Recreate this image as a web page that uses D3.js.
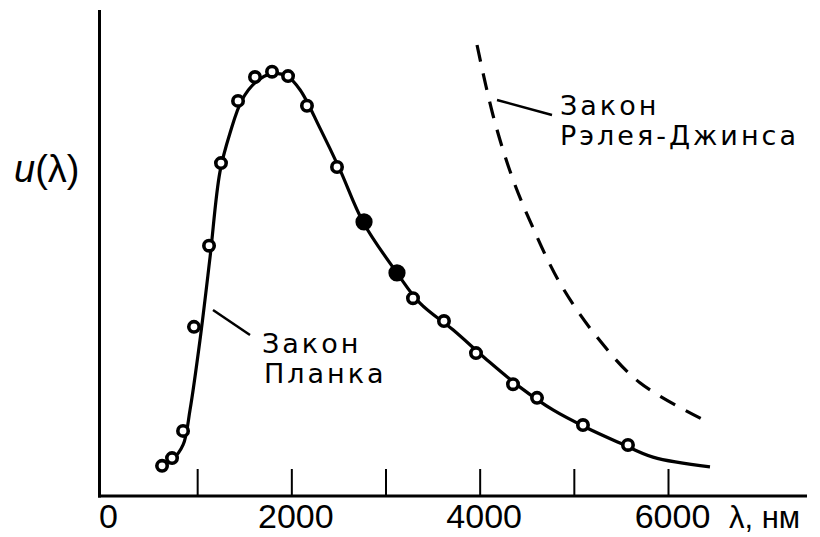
<!DOCTYPE html>
<html>
<head>
<meta charset="utf-8">
<script src="https://cdn.jsdelivr.net/npm/d3@7"></script>
<style>
  body { margin: 0; background: #fff; }
  svg { display: block; }
</style>
</head>
<body>
<div id="chart"></div>
<script>
// GLOBALS AND CONSTANTS
const width = 820;
const height = 537;

// DATA, lambda in nm, u in arbitrary units
const planckLambda = [584, 733, 850, 924, 1030, 1136, 1242, 1349, 1476, 1625, 1795, 1954, 2092, 2304, 2517, 2761, 3122, 3366, 3717, 4078, 4428, 4779, 5140, 5490, 5840, 6446];
const planckU      = [5.8, 7.4, 10.5, 17.7, 32.1, 49.0, 66.7, 74.7, 81.5, 85.2, 86.9, 86.4, 83.6, 75.7, 67.1, 56.4, 45.9, 39.7, 34.2, 28.0, 22.4, 17.7, 14.0, 10.9, 8.0, 6.0];

const obsLambda = [627, 733, 850, 966, 1126, 1253, 1434, 1614, 1795, 1965, 2166, 2485, 2772, 3122, 3292, 3621, 3961, 4354, 4609, 5097, 5575];
const obsU      = [6.2, 7.8, 13.4, 34.8, 51.5, 68.5, 81.3, 86.2, 87.3, 86.4, 80.3, 67.7, 56.4, 45.9, 40.7, 36.0, 29.4, 23.0, 20.2, 14.6, 10.5];
const obsFilled = [false, false, false, false, false, false, false, false, false, false, false, false, true, true, false, false, false, false, false, false, false];

const rjLambda = [3972, 4141, 4343, 4566, 4853, 5246, 5702, 6425];
const rjU      = [92.8, 78.4, 65.7, 55.2, 43.8, 32.7, 23.3, 15.2];

const minorTicks = [1000, 2000, 3000, 4000, 5000, 6000];
const tickLabels = [0, 2000, 4000, 6000];

// SCALES
const x = d3.scaleLinear().domain([0, 6000]).range([103, 668]);
const y = d3.scaleLinear().domain([0, 100]).range([496, 10]);

const svg = d3.select('#chart')
  .append('svg')
  .attr('width', width)
  .attr('height', height);

// AXES LINES
svg.append('line')
  .attr('x1', 99.5).attr('x2', 99.5)
  .attr('y1', y(100)).attr('y2', 497.5)
  .attr('stroke', '#000').attr('stroke-width', 3);

svg.append('line')
  .attr('x1', 98).attr('x2', 807)
  .attr('y1', 496).attr('y2', 496)
  .attr('stroke', '#000').attr('stroke-width', 3);

// TICKS (pointing up)
const tickAxis = svg.append('g')
  .attr('transform', 'translate(0,496)')
  .call(d3.axisBottom(x).tickValues(minorTicks).tickSizeInner(-27).tickSizeOuter(0).tickFormat(''));
tickAxis.select('.domain').remove();
tickAxis.selectAll('line').attr('stroke', '#000').attr('stroke-width', 2);

// TICK LABELS
const labelAxis = svg.append('g')
  .attr('transform', 'translate(0,496)')
  .call(d3.axisBottom(x).tickValues(tickLabels).tickSize(0).tickPadding(8).tickFormat(d3.format('d')));
labelAxis.select('.domain').remove();
labelAxis.selectAll('text')
  .attr('fill', '#000')
  .style('font-family', '"Liberation Sans", Arial, sans-serif')
  .style('font-size', '34px')
  .attr('dx', d => d === 0 ? '5px' : '4px');

svg.append('text')
  .attr('x', 729).attr('y', 528)
  .style('font-family', '"Liberation Sans", Arial, sans-serif')
  .style('font-size', '31px')
  .text('λ, нм');

// Y LABEL
const yl = svg.append('text')
  .attr('x', 14).attr('y', 182)
  .style('font-family', '"Liberation Sans", Arial, sans-serif')
  .style('font-size', '38px');
yl.append('tspan').style('font-style', 'italic').text('u');
yl.append('tspan').text('(λ)');

// PLANCK CURVE
const line = d3.line()
  .x(d => x(d[0]))
  .y(d => y(d[1]))
  .curve(d3.curveCatmullRom.alpha(0.5));

svg.append('path')
  .datum(d3.zip(planckLambda, planckU))
  .attr('d', line)
  .attr('fill', 'none')
  .attr('stroke', '#000')
  .attr('stroke-width', 3.2)
  .attr('stroke-linejoin', 'round');

// RAYLEIGH-JEANS CURVE
svg.append('path')
  .datum(d3.zip(rjLambda, rjU))
  .attr('d', line)
  .attr('fill', 'none')
  .attr('stroke', '#000')
  .attr('stroke-width', 3.2)
  .attr('stroke-dasharray', '17,12');

// OBSERVED POINTS
svg.selectAll('.pt')
  .data(d3.zip(obsLambda, obsU, obsFilled))
  .enter()
  .append('circle')
  .attr('class', 'pt')
  .attr('cx', d => x(d[0]))
  .attr('cy', d => y(d[1]))
  .attr('r', d => d[2] ? 6.8 : 5.2)
  .attr('fill', d => d[2] ? '#000' : '#fff')
  .attr('stroke', '#000')
  .attr('stroke-width', 3.6);

// ANNOTATIONS
const labelFont = '"DejaVu Sans", sans-serif';

svg.append('line')
  .attr('x1', 213).attr('y1', 310).attr('x2', 250).attr('y2', 335)
  .attr('stroke', '#000').attr('stroke-width', 2.5);

svg.append('line')
  .attr('x1', 497).attr('y1', 100).attr('x2', 552).attr('y2', 115)
  .attr('stroke', '#000').attr('stroke-width', 2.5);

const annots = [
  { x: 262, y: 353, t: 'Закон' },
  { x: 264, y: 383, t: 'Планка' },
  { x: 560, y: 115, t: 'Закон' },
  { x: 560, y: 145, t: 'Рэлея-Джинса' }
];

svg.selectAll('.annot')
  .data(annots)
  .enter()
  .append('text')
  .attr('class', 'annot')
  .attr('x', d => d.x)
  .attr('y', d => d.y)
  .style('font-family', labelFont)
  .style('font-size', '27px')
  .style('letter-spacing', '3px')
  .text(d => d.t);
</script>
</body>
</html>
